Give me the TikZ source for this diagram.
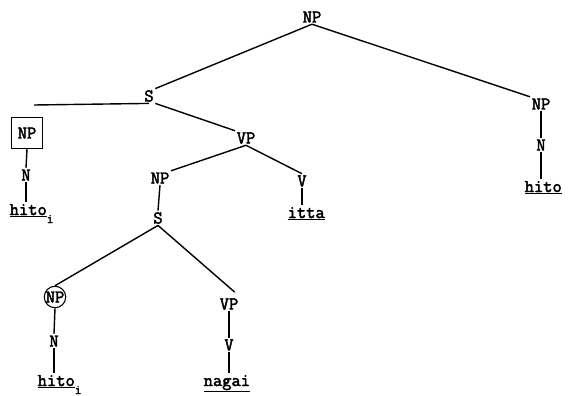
\documentclass[tikz,border=0pt]{standalone}
\usepackage{fontspec}
\newfontfamily\maquina{Latin Modern Mono}[FakeBold=2.5]
\newcommand{\subi}{\raisebox{-8pt}{\fontsize{13}{13}\selectfont i}}
\begin{document}
\begin{tikzpicture}[x=1pt,y=-1pt,line width=1.4pt,
    cat/.style={font=\maquina\fontsize{18}{20}\selectfont,inner sep=1pt},
    pal/.style={cat,anchor=base west}]

    \useasboundingbox (0,0) rectangle (570,396);

    % Categorias
    \node[cat] (npTop) at (312,17) {NP};
    \node[cat] (sTop) at (149,96) {S};
    \node[cat] (npR) at (541,104) {NP};
    \node[cat] (nR) at (541,145) {N};
    \node[cat,draw,line width=1.1pt,minimum size=31pt] (npBox) at (27,133) {NP};
    \node[cat] (nBox) at (26,175) {N};
    \node[cat] (vpMid) at (246,138) {VP};
    \node[cat] (npMid) at (160,178) {NP};
    \node[cat] (vMid) at (302,181) {V};
    \node[cat] (sMid) at (158,218) {S};
    \node[cat,draw,circle,line width=1.1pt,inner sep=0pt] (npCirc) at (55,297) {NP};
    \node[cat] (nCirc) at (54,341) {N};
    \node[cat] (vpLow) at (229,304) {VP};
    \node[cat] (vLow) at (229,345) {V};
    \coordinate (sIzq) at (34,105);

    % Palabras
    \node[pal] (hitoBox) at (8,215) {\underline{hito}\subi};
    \node[pal] (hitoR) at (523,192) {\underline{hito}};
    \node[pal] (itta) at (286,218) {\underline{itta}};
    \node[pal] (hitoCirc) at (36,386) {\underline{hito}\subi};
    \node[pal] (nagai) at (202,386) {\underline{nagai}};

    % Ramas
    \draw (npTop.south) -- (sTop.north east);
    \draw (npTop.south) -- (npR.north west);
    \draw (sTop.south) -- (sIzq);
    \draw (sTop.south east) -- (vpMid.north west);
    \draw (vpMid.south) -- (npMid.north east);
    \draw (vpMid.south) -- (vMid.north);
    \draw (npMid.south) -- (sMid.north);
    \draw (sMid.south) -- (npCirc.north);
    \draw[shorten >=7pt] (sMid.south) -- (vpLow.north east);

    % Ramas verticales
    \draw (npR.south) -- (nR.north);
    \draw (nR.south) -- (nR.south |- hitoR.north);
    \draw (npBox.south) -- (nBox.north);
    \draw (nBox.south) -- (nBox.south |- hitoBox.north);
    \draw (vMid.south) -- (vMid.south |- itta.north);
    \draw (npCirc.south) -- (nCirc.north);
    \draw (nCirc.south) -- (nCirc.south |- hitoCirc.north);
    \draw (vpLow.south) -- (vLow.north);
    \draw (vLow.south) -- (vLow.south |- nagai.north);

\end{tikzpicture}
\end{document}
